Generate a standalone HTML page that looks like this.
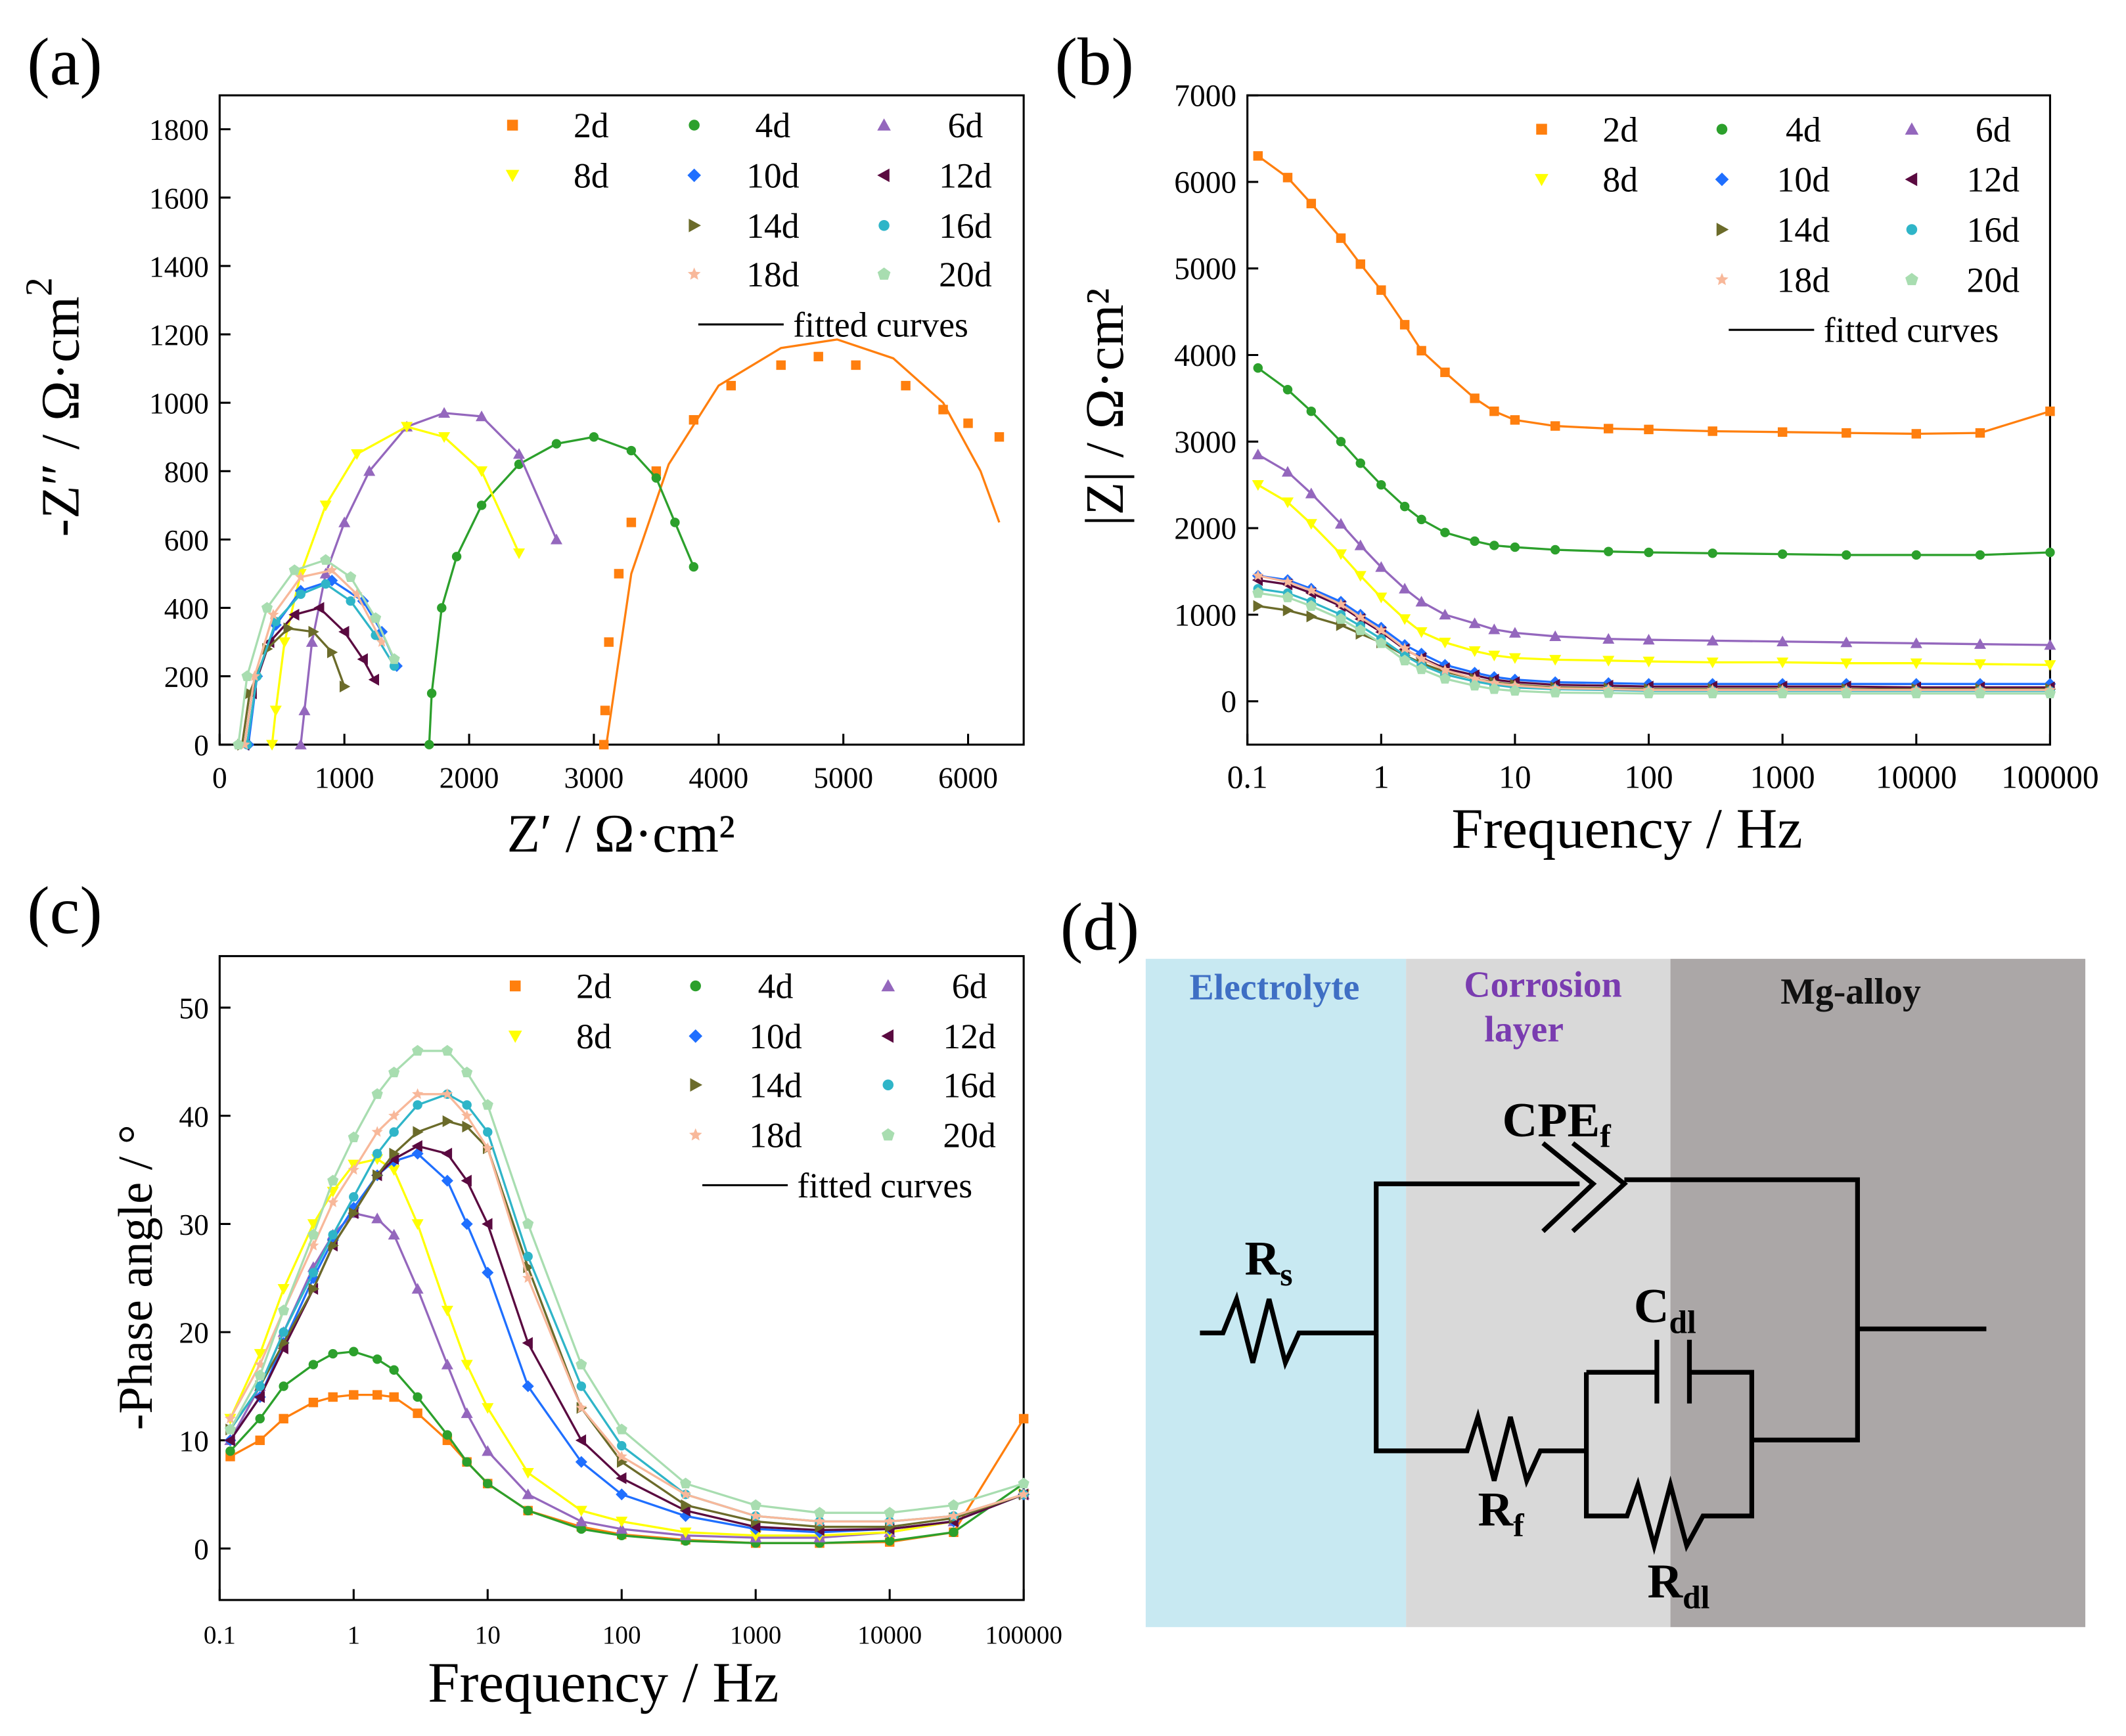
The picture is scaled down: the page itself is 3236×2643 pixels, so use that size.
<!DOCTYPE html>
<html><head><meta charset="utf-8"><style>
html,body{margin:0;padding:0;background:#fff}
svg{display:block;font-family:"Liberation Serif",serif}
</style></head><body>
<svg id="fig" width="3236" height="2643" viewBox="0 0 1568 1280" xmlns="http://www.w3.org/2000/svg">
<g id="pa"></g>
<g id="pb"></g>
<g id="pc"></g>
<g id="pd">
  <rect x="845" y="707" width="192" height="493" fill="#c8e9f2"/>
  <rect x="1037" y="707" width="195" height="493" fill="#d9d9d9"/>
  <rect x="1232" y="707" width="306" height="493" fill="#aba7a7"/>
  <text x="940" y="737" font-size="27" font-weight="bold" fill="#3f6fc4" text-anchor="middle">Electrolyte</text>
  <text x="1138" y="735" font-size="27" font-weight="bold" fill="#7a3cb0" text-anchor="middle">Corrosion</text>
  <text x="1124" y="768" font-size="27" font-weight="bold" fill="#7a3cb0" text-anchor="middle">layer</text>
  <text x="1365" y="740" font-size="27" font-weight="bold" fill="#111" text-anchor="middle">Mg-alloy</text>
  <g fill="none" stroke="#000" stroke-width="3.5">
    <path d="M885 983 H902 L912 958 L924 1005 L936 958 L948 1005 L958 983 H1015"/>
    <path d="M1015 983 V873 H1165"/>
    <path d="M1138 843 L1175 873 L1138 908 M1160 843 L1198 873 L1160 908"/>
    <path d="M1198 870 H1370 V1062 H1292"/>
    <path d="M1370 980 H1465"/>
    <path d="M1015 983 V1070 H1082 L1090 1045 L1102 1092 L1114 1045 L1126 1092 L1136 1070 H1170"/>
    <path d="M1170 1012 V1118 H1200 L1208 1095 L1220 1140 L1232 1095 L1244 1140 L1256 1118 H1292 V1012 H1246"/>
    <path d="M1170 1012 H1222 M1222 988 V1035 M1246 988 V1035"/>
  </g>
  <text x="1108" y="838" font-size="36" font-weight="bold">CPE<tspan font-size="24" dy="8">f</tspan></text>
  <text x="918" y="940" font-size="36" font-weight="bold">R<tspan font-size="24" dy="8">s</tspan></text>
  <text x="1205" y="975" font-size="36" font-weight="bold">C<tspan font-size="24" dy="8">dl</tspan></text>
  <text x="1090" y="1125" font-size="36" font-weight="bold">R<tspan font-size="24" dy="8">f</tspan></text>
  <text x="1215" y="1178" font-size="36" font-weight="bold">R<tspan font-size="24" dy="8">dl</tspan></text>
</g>
<text x="20" y="62" font-size="50">(a)</text>
<text x="778" y="62" font-size="50">(b)</text>
<text x="20" y="688" font-size="50">(c)</text>
<text x="782" y="700" font-size="50">(d)</text>
</svg>
<script>
const NS='http://www.w3.org/2000/svg';
const seriesNames=['2d','4d','6d','8d','10d','12d','14d','16d','18d','20d'];
const colors=['#ff7f0e','#2ca02c','#9467bd','#ffff00','#1f6fff','#5a0a40','#6b6b2a','#2fb5c8','#f8b89a','#a8ddb0'];
const markers=['square','circle','up','down','diamond','left','right','circle','star','pent'];
// Panel a: Z' values and Z'' values per series
const aZre=[
[3080,3090,3120,3200,3300,3500,3800,4100,4500,4800,5100,5500,5800,6000,6250],
[1680,1700,1780,1900,2100,2400,2700,3000,3300,3500,3650,3800],
[650,680,740,850,1000,1200,1500,1800,2100,2400,2700],
[420,450,520,650,850,1100,1500,1800,2100,2400],
[230,300,450,650,900,1150,1300,1420],
[200,260,400,600,800,1000,1150,1240],
[180,240,380,550,750,900,1000],
[220,300,450,650,850,1050,1250,1400],
[200,280,430,650,900,1100,1300],
[150,220,380,600,850,1050,1250,1400]];
const aZim=[
[0,100,300,500,650,800,950,1050,1110,1135,1110,1050,980,940,900],
[0,150,400,550,700,820,880,900,860,780,650,520],
[0,100,300,500,650,800,930,970,960,850,600],
[0,100,300,500,700,850,930,900,800,560],
[0,200,350,450,480,420,330,230],
[0,150,300,380,400,330,250,190],
[0,150,280,340,330,270,170],
[0,200,360,440,470,420,320,230],
[0,200,380,490,510,440,300],
[0,200,400,510,540,490,370,250]];
const aFitRe=[3100,3300,3600,4000,4500,4950,5400,5800,6100,6250];
const aFitIm=[0,500,820,1050,1160,1185,1130,1000,800,650];
const aXTicks=[0,1000,2000,3000,4000,5000,6000];
const aYTicks=[0,200,400,600,800,1000,1200,1400,1600,1800];
// Panels b, c: frequencies
const freqs=[0.12,0.2,0.3,0.5,0.7,1,1.5,2,3,5,7,10,20,50,100,300,1000,3000,10000,30000,100000];
const bMod=[
[6300,6050,5750,5350,5050,4750,4350,4050,3800,3500,3350,3250,3180,3150,3140,3120,3110,3100,3090,3100,3350],
[3850,3600,3350,3000,2750,2500,2250,2100,1950,1850,1800,1780,1750,1730,1720,1710,1700,1690,1690,1690,1720],
[2850,2650,2400,2050,1800,1550,1300,1150,1000,900,830,790,750,720,710,700,690,680,670,660,650],
[2500,2300,2050,1700,1450,1200,950,800,680,580,530,500,480,470,460,450,450,440,440,430,420],
[1450,1400,1300,1150,1000,850,650,550,420,330,280,250,220,210,200,200,200,200,200,200,200],
[1400,1350,1250,1100,950,800,600,500,380,300,250,220,190,180,170,170,170,170,160,160,160],
[1100,1050,980,880,780,680,530,440,340,260,220,190,160,150,140,140,140,140,140,140,140],
[1300,1250,1150,1000,870,720,530,420,310,230,190,160,140,130,120,120,120,120,120,120,120],
[1450,1380,1280,1120,970,820,610,490,360,260,210,180,150,140,130,130,130,130,130,130,130],
[1250,1200,1100,950,820,670,470,370,260,180,140,120,100,95,90,90,90,90,90,90,90]];
const bYTicks=[0,1000,2000,3000,4000,5000,6000,7000];
const cPhase=[
[8.5,10,12,13.5,14,14.2,14.2,14,12.5,10,8,6,3.5,2,1.3,0.8,0.5,0.5,0.6,1.5,12],
[9,12,15,17,18,18.2,17.5,16.5,14,10.5,8,6,3.5,1.8,1.2,0.7,0.5,0.5,0.7,1.5,6],
[10,15,20,26,29,31,30.5,29,24,17,12.5,9,5,2.5,1.8,1.2,1,1,1.5,2.5,5],
[12,18,24,30,33,35.5,36,35,30,22,17,13,7,3.5,2.5,1.5,1.2,1.2,1.5,2.5,5],
[10,14,19,25,28.5,31.5,34.5,35.8,36.5,34,30,25.5,15,8,5,3,1.8,1.5,1.8,2.5,5],
[10,14,18.5,24,28,31,34.5,36,37.2,36.5,34,30,19,10,6.5,3.5,2,1.7,1.8,2.5,5],
[11,15,19,24,28,31,34.5,36.5,38.5,39.5,39,37,26,13,8,4,2.5,2,2,2.8,5],
[11,15,20,25.5,29,32.5,36.5,38.5,41,42,41,38.5,27,15,9.5,5,3,2.5,2.5,3,5],
[12,17,22,28,32,35,38.5,40,42,42,40,37,25,13,8.5,5,3,2.5,2.5,3,5],
[11,16,22,29,34,38,42,44,46,46,44,41,30,17,11,6,4,3.3,3.3,4,6]];
const cYTicks=[0,10,20,30,40,50];
const logTicks=[0.1,1,10,100,1000,10000,100000];
const logLabels=['0.1','1','10','100','1000','10000','100000'];

function el(p,tag,at){const e=document.createElementNS(NS,tag);for(const k in at)e.setAttribute(k,at[k]);p.appendChild(e);return e;}
function lin(d0,d1,p0,p1){return v=>p0+(v-d0)*(p1-p0)/(d1-d0);}
function logs(d0,d1,p0,p1){return v=>p0+(Math.log10(v)-Math.log10(d0))*(p1-p0)/(Math.log10(d1)-Math.log10(d0));}
function marker(g,type,x,y,c,r){
  let e;
  if(type==='square')e=el(g,'rect',{x:x-r,y:y-r,width:2*r,height:2*r,fill:c});
  else if(type==='circle')e=el(g,'circle',{cx:x,cy:y,r:r,fill:c});
  else{let pts;const R=r*1.25;
    if(type==='up')pts=[[0,-R],[R,R*0.8],[-R,R*0.8]];
    else if(type==='down')pts=[[0,R],[R,-R*0.8],[-R,-R*0.8]];
    else if(type==='left')pts=[[-R,0],[R*0.8,-R],[R*0.8,R]];
    else if(type==='right')pts=[[R,0],[-R*0.8,-R],[-R*0.8,R]];
    else if(type==='diamond')pts=[[0,-R],[R,0],[0,R],[-R,0]];
    else if(type==='star'){pts=[];for(let i=0;i<10;i++){const a=-Math.PI/2+i*Math.PI/5,rr=i%2?R*0.45:R;pts.push([rr*Math.cos(a),rr*Math.sin(a)]);}}
    else{pts=[];for(let i=0;i<5;i++){const a=-Math.PI/2+i*2*Math.PI/5;pts.push([R*Math.cos(a),R*Math.sin(a)]);}}
    e=el(g,'polygon',{points:pts.map(p=>(x+p[0])+','+(y+p[1])).join(' '),fill:c});}
  
  
}
function frame(g,x0,y0,x1,y1){
  const r=el(g,'rect',{x:x0,y:y0,width:x1-x0,height:y1-y0,fill:'none',stroke:'#000','stroke-width':1.5});
  
  
}
function xTicks(g,ticks,labels,sx,y1,fs){
  ticks.forEach((t,i)=>{const x=sx(t);
    const l=el(g,'line',{x1:x,x2:x,y1:y1,y2:y1-8,stroke:'#000','stroke-width':1.5});
    
    
    const tx=el(g,'text',{x:x,y:y1+32,'font-size':fs,'text-anchor':'middle'});tx.textContent=labels[i];
    
    });
}
function yTicks(g,ticks,sy,x0,fs){
  ticks.forEach(t=>{const y=sy(t);
    const l=el(g,'line',{x1:x0,x2:x0+8,y1:y,y2:y,stroke:'#000','stroke-width':1.5});
    
    
    const tx=el(g,'text',{x:x0-8,y:y+8,'font-size':fs,'text-anchor':'end'});tx.textContent=t;
    
    });
}
function line(g,xs,ys,sx,sy,c){
  const p=el(g,'polyline',{points:xs.map((x,i)=>sx(x)+','+sy(ys[i])).join(' '),fill:'none',stroke:c,'stroke-width':1.6});
  
  
}
function legend(g,cols,rows,lineX,fs){
  seriesNames.forEach((n,i)=>{
    const ci=i<6?i%3:1+(i-6)%2, ri=i<6?Math.floor(i/3):2+Math.floor((i-6)/2);
    const c=cols[ci],y=rows[ri];
    const lg=el(g,'g',{});
    
    
    marker(lg,markers[i],c[0],y,colors[i],4);
    const t=el(lg,'text',{x:c[1],y:y+9,'font-size':fs,'text-anchor':'middle'});t.textContent=n;});
  const y=rows[4];
  const l=el(g,'line',{x1:lineX,x2:lineX+63,y1:y,y2:y,stroke:'#000','stroke-width':1.5});
  
  
  const t=el(g,'text',{x:lineX+70,y:y+9,'font-size':fs});t.textContent='fitted curves';
  
  
}
function title(g,txt,x,y,fs,rot,name){
  const t=el(g,'text',{x:x,y:y,'font-size':fs,'text-anchor':'middle'});
  if(rot)t.setAttribute('transform','rotate(-90 '+x+' '+y+')');
  t.innerHTML=txt;
  
  
}
// Panel A
(function(){const g=document.getElementById('pa');
  const sx=lin(0,1000,162,254),sy=lin(0,1800,549,95);
  frame(g,162,70,755,549);
  xTicks(g,aXTicks,aXTicks.map(String),sx,549,22);
  yTicks(g,aYTicks,sy,162,22);
  aZre.forEach((xs,i)=>{if(i===0)line(g,aFitRe,aFitIm,sx,sy,colors[0]);else line(g,xs,aZim[i],sx,sy,colors[i]);
    xs.forEach((x,j)=>marker(g,markers[i],sx(x),sy(aZim[i][j]),colors[i],3.5));});
  legend(g,[[378,436],[512,570],[652,712]],[92,129,166,202,239],515,26);
  title(g,'Z′ / Ω·cm²',458,628,40,false,'x-axis-title');
  title(g,'-Z″ / Ω·cm<tspan dy="-20" font-size="28">2</tspan>',58,300,40,true,'y-axis-title');
})();
// Panel B
(function(){const g=document.getElementById('pb');
  const sx=logs(0.1,100000,920,1512),sy=lin(0,7000,517,70);
  frame(g,920,70,1512,549);
  xTicks(g,logTicks,logLabels,sx,549,24);
  yTicks(g,bYTicks,sy,920,23);
  bMod.forEach((ys,i)=>{line(g,freqs,ys,sx,sy,colors[i]);
    ys.forEach((y,j)=>marker(g,markers[i],sx(freqs[j]),sy(y),colors[i],3.5));});
  legend(g,[[1137,1195],[1270,1330],[1410,1470]],[95,132,169,206,243],1275,26);
  title(g,'Frequency / Hz',1200,625,42,false,'x-axis-title');
  title(g,'|Z| / Ω·cm²',828,300,40,true,'y-axis-title');
})();
// Panel C
(function(){const g=document.getElementById('pc');
  const sx=logs(0.1,100000,162,755),sy=lin(0,50,1142,743);
  frame(g,162,705,755,1180);
  xTicks(g,logTicks,logLabels,sx,1180,19);
  yTicks(g,cYTicks,sy,162,22);
  cPhase.forEach((ys,i)=>{line(g,freqs,ys,sx,sy,colors[i]);
    ys.forEach((y,j)=>marker(g,markers[i],sx(freqs[j]),sy(y),colors[i],3.5));});
  legend(g,[[380,438],[513,572],[655,715]],[727,764,800,837,874],518,26);
  title(g,'Frequency / Hz',445,1255,42,false,'x-axis-title');
  title(g,'-Phase angle / °',112,942,36,true,'y-axis-title');
})();
</script>
</body></html>
